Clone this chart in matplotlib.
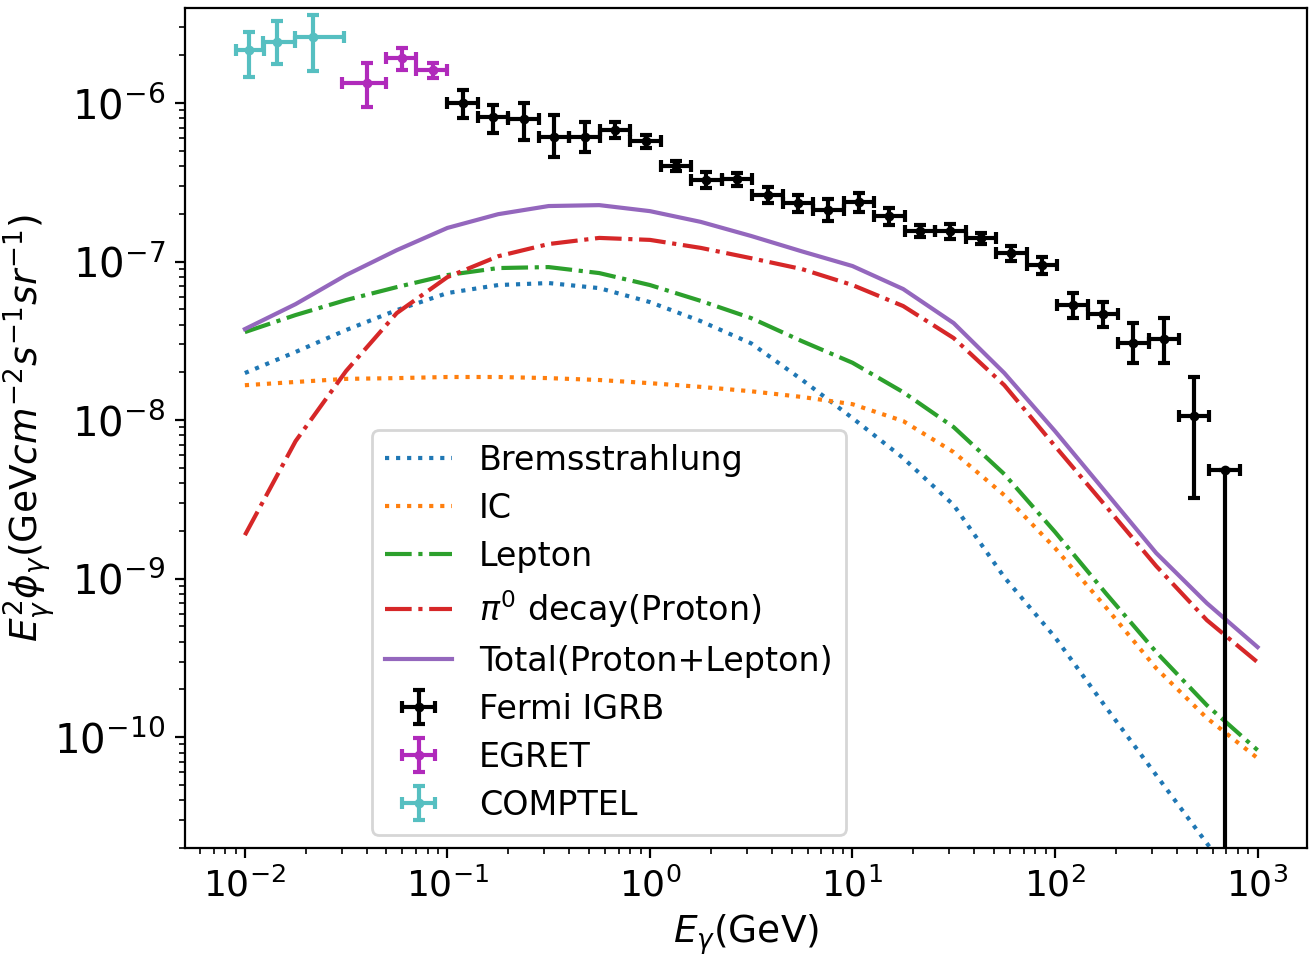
"""
Gamma-ray background spectrum: model components (bremsstrahlung, IC, pi0 decay)
compared with Fermi IGRB, EGRET and COMPTEL measurements.

Run:

    python plot.py
"""

import matplotlib.pyplot as plt


# model energy grid (GeV)
MODEL_E = [0.01, 0.0178, 0.0316, 0.0562, 0.1, 0.178, 0.316, 0.562, 1.0, 1.78,
           3.16, 5.62, 10.0, 17.8, 31.6, 56.2, 100.0, 178.0, 316.0, 562.0, 1000.0]

BREMS = [1.98e-8, 2.69e-8, 3.70e-8, 4.94e-8, 6.33e-8, 7.11e-8, 7.32e-8, 6.80e-8,
         5.55e-8, 4.21e-8, 3.05e-8, 1.80e-8, 1.03e-8, 5.76e-9, 2.91e-9, 1.02e-9,
         4.27e-10, 1.55e-10, 5.76e-11, 2.14e-11, 8.10e-12]

IC = [1.66e-8, 1.74e-8, 1.82e-8, 1.84e-8, 1.87e-8, 1.87e-8, 1.84e-8, 1.79e-8,
      1.71e-8, 1.62e-8, 1.52e-8, 1.40e-8, 1.26e-8, 9.86e-9, 6.28e-9, 3.36e-9,
      1.56e-9, 6.61e-10, 2.72e-10, 1.32e-10, 7.37e-11]

LEPTON = [3.59e-8, 4.60e-8, 5.72e-8, 6.90e-8, 8.22e-8, 9.10e-8, 9.23e-8, 8.46e-8,
          7.11e-8, 5.65e-8, 4.40e-8, 3.15e-8, 2.30e-8, 1.50e-8, 9.03e-9, 4.56e-9,
          1.97e-9, 8.10e-10, 3.44e-10, 1.59e-10, 8.28e-11]

PION = [1.88e-9, 7.37e-9, 2.04e-8, 4.73e-8, 7.98e-8, 1.08e-7, 1.29e-7, 1.41e-7,
        1.37e-7, 1.22e-7, 1.05e-7, 8.97e-8, 7.11e-8, 5.24e-8, 3.29e-8, 1.66e-8,
        6.85e-9, 2.87e-9, 1.20e-9, 5.47e-10, 2.97e-10]

TOTAL = [3.75e-8, 5.39e-8, 8.22e-8, 1.18e-7, 1.63e-7, 1.99e-7, 2.24e-7, 2.27e-7,
         2.08e-7, 1.78e-7, 1.45e-7, 1.16e-7, 9.37e-8, 6.71e-8, 4.09e-8, 1.98e-8,
         8.52e-9, 3.51e-9, 1.45e-9, 7.00e-10, 3.70e-10]

# Fermi IGRB
FERMI_E = [0.119, 0.168, 0.238, 0.336, 0.476, 0.673, 0.951, 1.35, 1.90, 2.69,
           3.81, 5.38, 7.61, 10.8, 15.2, 21.5, 30.4, 43.1, 60.9, 86.1,
           122.0, 172.0, 244.0, 345.0, 487.0, 689.0]
FERMI_E_EDGES = [0.1, 0.141, 0.2, 0.283, 0.4, 0.566, 0.8, 1.13, 1.6, 2.26, 3.2,
                 4.53, 6.4, 9.05, 12.8, 18.1, 25.6, 36.2, 51.2, 72.4, 102.0,
                 145.0, 205.0, 290.0, 410.0, 579.0, 819.0]
FERMI_FLUX = [1.00e-6, 8.16e-7, 7.92e-7, 6.10e-7, 6.10e-7, 6.76e-7, 5.76e-7,
              4.01e-7, 3.27e-7, 3.32e-7, 2.63e-7, 2.34e-7, 2.11e-7, 2.37e-7,
              1.94e-7, 1.56e-7, 1.56e-7, 1.41e-7, 1.13e-7, 9.50e-8, 5.32e-8,
              4.67e-8, 3.06e-8, 3.25e-8, 1.06e-8, 4.84e-9]
FERMI_FLUX_LO = [8.04e-7, 6.47e-7, 5.85e-7, 4.56e-7, 4.91e-7, 6.01e-7, 5.20e-7,
                 3.73e-7, 2.91e-7, 2.99e-7, 2.34e-7, 2.05e-7, 1.80e-7, 2.05e-7,
                 1.70e-7, 1.43e-7, 1.39e-7, 1.29e-7, 1.01e-7, 8.34e-8, 4.41e-8,
                 3.86e-8, 2.29e-8, 2.29e-8, 3.22e-9, 0.0]
FERMI_FLUX_HI = [1.21e-6, 9.71e-7, 1.00e-6, 8.40e-7, 7.59e-7, 7.59e-7, 6.28e-7,
                 4.31e-7, 3.67e-7, 3.62e-7, 2.95e-7, 2.63e-7, 2.48e-7, 2.70e-7,
                 2.18e-7, 1.70e-7, 1.72e-7, 1.51e-7, 1.25e-7, 1.07e-7, 6.33e-8,
                 5.55e-8, 4.09e-8, 4.41e-8, 1.87e-8, 4.84e-9]

# EGRET
EGRET_E = [0.040, 0.060, 0.085]
EGRET_E_ERR = [0.010, 0.010, 0.015]
EGRET_FLUX = [1.34e-6, 1.92e-6, 1.61e-6]
EGRET_FLUX_LO = [9.44e-7, 1.61e-6, 1.44e-6]
EGRET_FLUX_HI = [1.79e-6, 2.22e-6, 1.79e-6]

# COMPTEL
COMPTEL_E = [0.0105, 0.0144, 0.0217]
COMPTEL_E_LO = [0.0090, 0.0123, 0.0177]
COMPTEL_E_HI = [0.0124, 0.0177, 0.0308]
COMPTEL_FLUX = [2.16e-6, 2.43e-6, 2.61e-6]
COMPTEL_FLUX_LO = [1.46e-6, 1.76e-6, 1.59e-6]
COMPTEL_FLUX_HI = [2.81e-6, 3.29e-6, 3.59e-6]

LEGEND_SIZE = 12
LABEL_SIZE = 13.5


def asym_err(center, lower, upper):
    """Turn lower/upper bounds into a [minus, plus] error pair."""
    minus = [c - lo for c, lo in zip(center, lower)]
    plus = [hi - c for c, hi in zip(center, upper)]
    return [minus, plus]


def plot_models(ax):
    """Draw the model spectra."""
    ax.plot(MODEL_E, BREMS, ":", color="tab:blue", label="Bremsstrahlung")
    ax.plot(MODEL_E, IC, ":", color="tab:orange", label="IC")
    ax.plot(MODEL_E, LEPTON, "-.", color="tab:green", label="Lepton")
    ax.plot(MODEL_E, PION, "-.", color="tab:red", label=r"$\pi^0$ decay(Proton)")
    ax.plot(MODEL_E, TOTAL, "-", color="tab:purple", label="Total(Proton+Lepton)")


def plot_data(ax):
    """Draw the measured points with error bars."""
    style = dict(fmt="o", markersize=2.5, elinewidth=1.5, capsize=2.2, capthick=1.5)

    fermi_xerr = asym_err(FERMI_E, FERMI_E_EDGES[:-1], FERMI_E_EDGES[1:])
    fermi_yerr = asym_err(FERMI_FLUX, FERMI_FLUX_LO, FERMI_FLUX_HI)
    ax.errorbar(FERMI_E, FERMI_FLUX, xerr=fermi_xerr, yerr=fermi_yerr,
                color="black", label="Fermi IGRB", **style)

    egret_yerr = asym_err(EGRET_FLUX, EGRET_FLUX_LO, EGRET_FLUX_HI)
    ax.errorbar(EGRET_E, EGRET_FLUX, xerr=EGRET_E_ERR, yerr=egret_yerr,
                color="#b02abb", label="EGRET", **style)

    comptel_xerr = asym_err(COMPTEL_E, COMPTEL_E_LO, COMPTEL_E_HI)
    comptel_yerr = asym_err(COMPTEL_FLUX, COMPTEL_FLUX_LO, COMPTEL_FLUX_HI)
    ax.errorbar(COMPTEL_E, COMPTEL_FLUX, xerr=comptel_xerr, yerr=comptel_yerr,
                color="#56bfc1", label="COMPTEL", **style)


def main():
    fig = plt.figure(figsize=(6.545, 4.78), dpi=200)
    ax = fig.add_axes([0.1413, 0.1130, 0.857, 0.8787])

    plot_models(ax)
    plot_data(ax)

    ax.set_xscale("log")
    ax.set_yscale("log")
    ax.set_xlim(5.06e-3, 1.75e3)
    ax.set_ylim(2.0e-11, 3.98e-6)

    ax.set_xlabel(r"$E_{\gamma}$(GeV)", fontsize=LABEL_SIZE, labelpad=3)
    ax.set_ylabel(r"$E_{\gamma}^2\phi_{\gamma}$(GeV$cm^{-2}s^{-1}sr^{-1}$)",
                  fontsize=LABEL_SIZE)
    ax.yaxis.set_label_coords(-0.113, 0.5)
    ax.tick_params(axis="x", labelsize=13)
    ax.tick_params(axis="y", labelsize=14.5)

    ax.legend(loc="lower left", bbox_to_anchor=(0.1667, 0.0155),
              borderaxespad=0, fontsize=LEGEND_SIZE, labelspacing=0.45)

    fig.savefig("out.png", dpi=200)
    plt.close(fig)


if __name__ == "__main__":
    main()
